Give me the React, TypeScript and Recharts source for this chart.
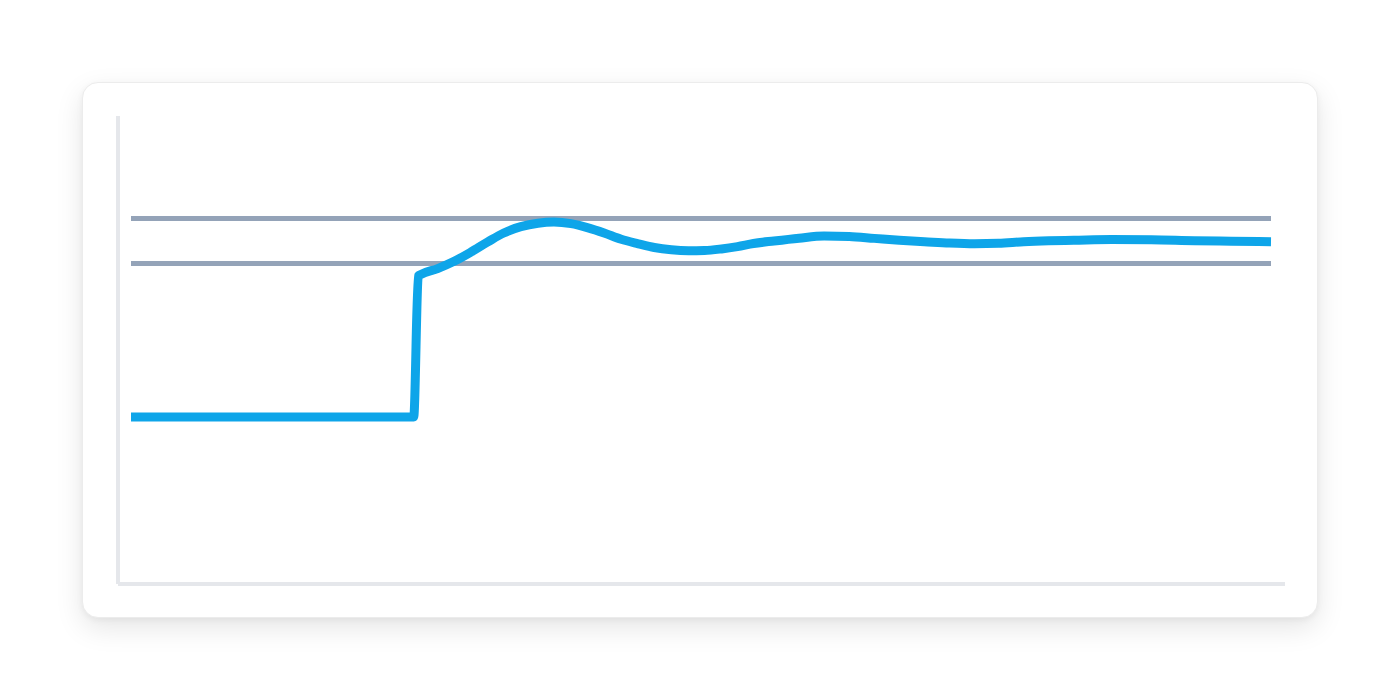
import { LineChart, Line, XAxis, YAxis, ReferenceLine } from "recharts";

// step response: time (0-100) and measured value (0-100 scale)
const times = [
  0, 24.8, 25.2, 25.4, 26.9, 28.3, 29.8, 31.3, 32.7, 34.2, 35.7, 37.1, 38.6, 40.1, 41.5, 43, 44.5, 45.9, 47.4, 48.9,
  50.3, 51.8, 53.2, 54.6, 56.4, 58.6, 60.8, 63, 65.2, 67.4, 69.6, 71.8, 74, 76.1, 78.3, 80.5, 82.7, 86, 89.5, 93.3,
  96.5, 100,
];
const values = [
  35.7, 35.7, 65.8, 66.1, 67.4, 68.9, 70.9, 73.1, 75.0, 76.35, 77.1, 77.35, 77.0, 76.1, 75.0, 73.65, 72.7, 71.9, 71.4,
  71.2, 71.25, 71.6, 72.1, 72.75, 73.3, 73.9, 74.35, 74.25, 73.85, 73.45, 73.15, 72.85, 72.7, 72.8, 73.15, 73.35, 73.45,
  73.6, 73.55, 73.35, 73.25, 73.15,
];

// tolerance band
const upperBand = 78.1;
const lowerBand = 68.5;

const chartData = times.map((t, i) => ({ t, value: values[i] }));

export default function App() {
  return (
    <div
      style={{
        position: "absolute",
        left: 82,
        top: 82,
        width: 1236,
        height: 536,
        background: "#fff",
        borderRadius: 16,
        border: "1px solid #ececec",
        boxSizing: "border-box",
        boxShadow: "0 10px 28px rgba(0,0,0,0.10), 0 2px 6px rgba(0,0,0,0.05)",
      }}
    >
      <LineChart width={1236} height={536} data={chartData} margin={{ top: 33, right: 34, bottom: 34, left: 34 }}>
        <XAxis
          dataKey="t"
          type="number"
          domain={[0, 100]}
          padding={{ left: 13, right: 14 }}
          height={1}
          tick={false}
          tickLine={false}
          axisLine={{ stroke: "#e5e7eb", strokeWidth: 4 }}
        />
        <YAxis
          type="number"
          domain={[0, 100]}
          width={1}
          tick={false}
          tickLine={false}
          axisLine={{ stroke: "#e5e7eb", strokeWidth: 4 }}
        />
        <ReferenceLine segment={[{ x: 0, y: upperBand }, { x: 100, y: upperBand }]} stroke="#94a3b8" strokeWidth={5} />
        <ReferenceLine segment={[{ x: 0, y: lowerBand }, { x: 100, y: lowerBand }]} stroke="#94a3b8" strokeWidth={5} />
        <Line
          type="monotone"
          dataKey="value"
          stroke="#0ea5e9"
          strokeWidth={9}
          strokeLinejoin="round"
          dot={false}
          activeDot={false}
          isAnimationActive={false}
        />
      </LineChart>
    </div>
  );
}
